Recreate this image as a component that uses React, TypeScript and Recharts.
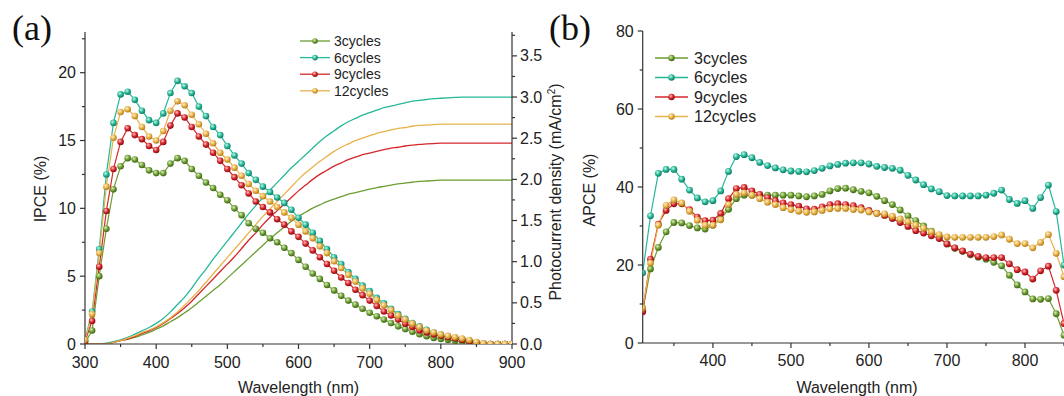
import React from 'react';
import { LineChart, Line, XAxis, YAxis } from 'recharts';

const FONT = '"Liberation Sans", Arial, sans-serif';
const AXIS = '#333';
const TEXT = '#222';

// panel (a): IPCE + integrated photocurrent
const wavelengthA = [
  300, 310, 320, 330, 340, 350, 360, 370, 380, 390, 400, 410, 420, 430, 440, 450, 460, 470, 480, 490,
  500, 510, 520, 530, 540, 550, 560, 570, 580, 590, 600, 610, 620, 630, 640, 650, 660, 670, 680, 690,
  700, 710, 720, 730, 740, 750, 760, 770, 780, 790, 800, 810, 820, 830, 840, 850, 860, 870, 880, 890, 900,
];

const ipce3 = [
  0.1, 1.0, 5.0, 8.5, 11.4, 13.1, 13.7, 13.6, 13.2, 12.8, 12.6, 12.6, 13.3, 13.7, 13.5, 12.9, 12.4, 11.9, 11.5, 11.0,
  10.6, 10.0, 9.5, 8.9, 8.5, 8.2, 7.8, 7.5, 7.1, 6.7, 6.2, 5.7, 5.2, 4.8, 4.35, 3.95, 3.55, 3.2, 2.9, 2.6,
  2.3, 2.05, 1.8, 1.55, 1.3, 1.1, 0.9, 0.72, 0.58, 0.45, 0.37, 0.3, 0.22, 0.17, 0.12, 0.05, 0, 0, 0, 0, 0,
];
const ipce6 = [
  0.3, 2.4, 7.0, 12.5, 16.3, 18.4, 18.6, 18.0, 17.2, 16.5, 16.3, 17.0, 18.5, 19.4, 19.0, 18.5, 17.5, 16.8, 16.0, 15.4,
  14.6, 13.9, 13.3, 12.6, 12.1, 11.6, 11.2, 10.8, 10.4, 9.9, 9.3, 8.8, 8.2, 7.6, 7.0, 6.4, 5.9, 5.3, 4.8, 4.3,
  3.9, 3.4, 3.0, 2.6, 2.2, 1.85, 1.55, 1.3, 1.05, 0.85, 0.7, 0.55, 0.45, 0.35, 0.25, 0.1, 0.03, 0, 0, 0, 0,
];
const ipce9 = [
  0.2, 1.7, 5.7, 9.8, 12.9, 14.9, 15.9, 15.4, 15.1, 14.6, 14.3, 14.9, 16.1, 17.0, 16.7, 16.0, 15.3, 14.7, 14.1, 13.5,
  12.9, 12.3, 11.7, 11.1, 10.5, 10.1, 9.7, 9.2, 8.8, 8.3, 7.9, 7.4, 6.9, 6.4, 5.9, 5.4, 4.9, 4.5, 4.0, 3.6,
  3.2, 2.8, 2.4, 2.1, 1.8, 1.5, 1.25, 1.0, 0.85, 0.7, 0.6, 0.5, 0.4, 0.3, 0.2, 0.1, 0.02, 0, 0, 0, 0,
];
const ipce12 = [
  0.3, 2.2, 6.7, 11.6, 15.2, 17.1, 17.3, 16.8, 16.0, 15.3, 15.0, 15.7, 17.2, 17.9, 17.6, 16.9, 16.2, 15.5, 14.8, 14.1,
  13.6, 13.0, 12.4, 11.8, 11.3, 10.9, 10.5, 10.1, 9.7, 9.3, 8.8, 8.3, 7.8, 7.2, 6.7, 6.1, 5.6, 5.1, 4.6, 4.1,
  3.7, 3.25, 2.85, 2.5, 2.1, 1.8, 1.5, 1.25, 1.0, 0.85, 0.7, 0.6, 0.5, 0.4, 0.3, 0.15, 0.05, 0, 0, 0, 0,
];

const jsc3 = [
  0, 0, 0, 0, 0.02, 0.04, 0.06, 0.08, 0.11, 0.14, 0.18, 0.22, 0.27, 0.32, 0.38, 0.44, 0.51, 0.58, 0.65, 0.72,
  0.8, 0.88, 0.96, 1.04, 1.12, 1.2, 1.28, 1.35, 1.42, 1.49, 1.55, 1.6, 1.65, 1.69, 1.73, 1.76, 1.79, 1.82, 1.84, 1.86,
  1.88, 1.9, 1.915, 1.93, 1.945, 1.955, 1.965, 1.975, 1.98, 1.985, 1.99, 1.99, 1.99, 1.99, 1.99, 1.99, 1.99, 1.99, 1.99, 1.99, 1.99,
];
const jsc6 = [
  0, 0, 0, 0.01, 0.03, 0.05, 0.08, 0.12, 0.16, 0.2, 0.25, 0.31, 0.39, 0.48, 0.57, 0.68, 0.8, 0.91, 1.03, 1.14,
  1.25, 1.36, 1.47, 1.58, 1.68, 1.78, 1.87, 1.96, 2.05, 2.14, 2.22, 2.3, 2.38, 2.46, 2.53, 2.59, 2.65, 2.7, 2.74, 2.78,
  2.81, 2.84, 2.87, 2.89, 2.91, 2.93, 2.95, 2.96, 2.97, 2.98, 2.985, 2.99, 2.995, 3.0, 3.0, 3.0, 3.0, 3.0, 3.0, 3.0, 3.0,
];
const jsc9 = [
  0, 0, 0, 0, 0.02, 0.04, 0.06, 0.09, 0.13, 0.16, 0.2, 0.25, 0.31, 0.37, 0.44, 0.52, 0.61, 0.7, 0.79, 0.88,
  0.97, 1.06, 1.16, 1.26, 1.35, 1.45, 1.54, 1.62, 1.7, 1.78, 1.86, 1.93, 2.0, 2.06, 2.11, 2.16, 2.2, 2.24, 2.27, 2.3,
  2.32, 2.34, 2.36, 2.38, 2.39, 2.405, 2.415, 2.425, 2.43, 2.435, 2.44, 2.44, 2.44, 2.44, 2.44, 2.44, 2.44, 2.44, 2.44, 2.44, 2.44,
];
const jsc12 = [
  0, 0, 0, 0, 0.02, 0.04, 0.07, 0.1, 0.14, 0.17, 0.21, 0.26, 0.32, 0.39, 0.47, 0.56, 0.65, 0.75, 0.85, 0.95,
  1.05, 1.15, 1.25, 1.35, 1.45, 1.55, 1.64, 1.73, 1.82, 1.91, 2.0, 2.08, 2.15, 2.22, 2.28, 2.34, 2.39, 2.43, 2.47, 2.5,
  2.53, 2.56, 2.58, 2.6, 2.62, 2.63, 2.645, 2.655, 2.66, 2.665, 2.67, 2.67, 2.67, 2.67, 2.67, 2.67, 2.67, 2.67, 2.67, 2.67, 2.67,
];

// panel (b): APCE
const wavelengthB = [
  310, 320, 330, 340, 350, 360, 370, 380, 390, 400, 410, 420, 430, 440, 450, 460, 470, 480, 490, 500,
  510, 520, 530, 540, 550, 560, 570, 580, 590, 600, 610, 620, 630, 640, 650, 660, 670, 680, 690, 700,
  710, 720, 730, 740, 750, 760, 770, 780, 790, 800, 810, 820, 830, 840, 850,
];
const apce3 = [
  8.3, 19.0, 24.5, 28.5, 30.9, 30.8, 30.1, 29.5, 29.2, 30.2, 31.8, 34.3, 37.0, 37.9, 37.9, 37.9, 37.9, 37.9, 37.9, 37.9,
  37.7, 37.5, 37.7, 38.1, 39.0, 39.6, 39.7, 39.3, 38.9, 38.5, 37.6, 36.5, 35.5, 34.1, 32.6, 31.4, 30.0, 28.7, 27.1, 25.4,
  24.3, 23.5, 22.6, 22.0, 21.5, 20.7, 19.8, 17.4, 14.9, 13.1, 11.3, 11.2, 11.4, 7.5, 2.0,
];
const apce6 = [
  18.0, 32.6, 43.5, 44.5, 44.5, 42.0, 39.2, 37.2, 36.2, 36.5, 39.0, 44.0, 47.8, 48.3, 47.5, 46.3, 45.5, 44.9, 44.4, 44.1,
  44.0, 43.9, 44.2, 44.8, 45.4, 45.8, 46.1, 46.2, 46.2, 45.9, 45.3, 45.0, 44.8, 44.3, 43.0, 41.8, 40.6, 39.5, 38.8, 37.8,
  37.7, 37.7, 37.7, 37.7, 37.9, 38.4, 39.2, 36.8, 35.8, 36.5, 34.5, 37.3, 40.5, 33.7, 20.0,
];
const apce9 = [
  8.0, 21.5, 30.5, 34.0, 35.7, 35.7, 34.2, 32.3, 31.4, 31.5, 33.2, 37.0, 39.6, 39.9, 39.0, 38.1, 37.3, 36.5, 35.9, 35.5,
  35.1, 34.4, 34.3, 34.9, 35.5, 35.7, 35.5, 35.2, 34.7, 34.0, 33.3, 32.7, 31.9, 30.9, 29.9, 28.8, 28.2, 27.5, 26.8, 25.4,
  24.4, 23.6, 22.8, 22.2, 21.9, 21.9, 21.9, 20.3, 18.8, 18.2, 16.4, 18.5, 19.7, 13.5, 5.0,
];
const apce12 = [
  9.0, 20.5, 30.2, 35.3, 36.7, 35.9, 33.8, 31.5, 30.2, 30.2, 31.6, 35.5, 38.1, 38.5, 37.9, 37.0, 36.1, 35.5, 34.7, 34.2,
  33.8, 33.5, 33.6, 34.0, 34.4, 34.5, 34.5, 34.2, 34.1, 33.6, 33.2, 33.1, 32.5, 31.8, 31.1, 30.2, 29.4, 28.5, 27.8, 27.2,
  27.1, 27.1, 27.1, 27.1, 27.1, 27.3, 27.7, 26.6, 25.5, 25.5, 24.4, 25.8, 27.8, 23.0, 17.0,
];

const xTicksA = [300, 350, 400, 450, 500, 550, 600, 650, 700, 750, 800, 850, 900];
const ipceTicks = [0, 2.5, 5, 7.5, 10, 12.5, 15, 17.5, 20, 22.5];
const jscTicks = [0, 0.25, 0.5, 0.75, 1, 1.25, 1.5, 1.75, 2, 2.25, 2.5, 2.75, 3, 3.25, 3.5, 3.75];
const xTicksB = [350, 400, 450, 500, 550, 600, 650, 700, 750, 800, 850];
const apceTicks = [0, 10, 20, 30, 40, 50, 60, 70, 80];

const SERIES = [
  { name: '3cycles', i: 'i3', j: 'j3', a: 'a3', color: '#6c9d32', grad: 'ballGreen', light: '#dcefbf', dark: '#3f6614' },
  { name: '6cycles', i: 'i6', j: 'j6', a: 'a6', color: '#25b898', grad: 'ballTeal', light: '#c8f4e8', dark: '#0f7a62' },
  { name: '9cycles', i: 'i9', j: 'j9', a: 'a9', color: '#d5262b', grad: 'ballRed', light: '#ffc4c0', dark: '#8c0d10' },
  { name: '12cycles', i: 'i12', j: 'j12', a: 'a12', color: '#e8b24a', grad: 'ballOrange', light: '#fff0c8', dark: '#b07a16' },
];

const dataA = wavelengthA.map((wl, k) => ({
  wl,
  i3: ipce3[k], i6: ipce6[k], i9: ipce9[k], i12: ipce12[k],
  j3: jsc3[k], j6: jsc6[k], j9: jsc9[k], j12: jsc12[k],
}));

const dataB = wavelengthB.map((wl, k) => ({
  wl, a3: apce3[k], a6: apce6[k], a9: apce9[k], a12: apce12[k],
}));

type Side = 'left' | 'right' | 'bottom' | 'top';

// axis ticks drawn by hand so that minor ticks are shorter and unlabeled
const makeTick = (side: Side, majorStep: number, fmt: ((v: number) => string) | null, labelGap = 24) =>
  function Tick(props: any) {
    const { x, y, payload } = props;
    const v = Number(payload?.value);
    const q = v / majorStep;
    const major = Math.abs(q - Math.round(q)) < 1e-6;
    const len = major ? 5 : 3;
    let x1 = x, x2 = x, y1 = y, y2 = y, tx = x, ty = y;
    let anchor: 'start' | 'middle' | 'end' = 'middle';
    if (side === 'left') { x1 = x - len; tx = x - 9; ty = y + 5.5; anchor = 'end'; }
    if (side === 'right') { x2 = x + len; tx = x + 8; ty = y + 5.5; anchor = 'start'; }
    if (side === 'bottom') { y2 = y + len; ty = y + labelGap; }
    if (side === 'top') { y1 = y - len; }
    return (
      <g>
        <line x1={x1} y1={y1} x2={x2} y2={y2} stroke={AXIS} strokeWidth={1.2} />
        {major && fmt && (
          <text x={tx} y={ty} textAnchor={anchor} fontSize={16} fontFamily={FONT} fill={TEXT}>
            {fmt(v)}
          </text>
        )}
      </g>
    );
  };

const axisLine = { stroke: AXIS, strokeWidth: 1.2 };
const int = (v: number) => String(v);
const one = (v: number) => v.toFixed(1);

function Legend({ left, top, gap, fontSize, lineLen, r, textGap }: any) {
  return (
    <g>
      {SERIES.map((s, k) => {
        const cy = top + k * gap;
        return (
          <g key={s.name}>
            <line x1={left} x2={left + lineLen} y1={cy} y2={cy} stroke={s.color} strokeWidth={1.3} />
            <circle cx={left + lineLen / 2} cy={cy} r={r} fill={`url(#${s.grad})`} />
            <text x={left + lineLen + textGap} y={cy + fontSize * 0.36} fontSize={fontSize} fontFamily={FONT} fill={TEXT}>
              {s.name}
            </text>
          </g>
        );
      })}
    </g>
  );
}

export default function App() {
  return (
    <div style={{ position: 'absolute', left: 0, top: 0, width: 1064, height: 396, overflow: 'hidden', background: '#fff' }}>
      <div style={{ position: 'absolute', left: 0, top: 0 }}>
        <LineChart width={600} height={396} data={dataA} margin={{ top: 32, right: 38, bottom: 22, left: 40 }}>
          <XAxis dataKey="wl" type="number" domain={[300, 900]} ticks={xTicksA} interval={0} height={30}
            tickSize={0} tickMargin={0} tick={makeTick('bottom', 100, int, 24)} axisLine={axisLine} allowDataOverflow />
          <XAxis xAxisId="top" dataKey="wl" orientation="top" type="number" domain={[300, 900]} height={0}
            tick={false} tickLine={false} axisLine={axisLine} />
          <YAxis yAxisId="ipce" type="number" domain={[0, 23]} ticks={ipceTicks} interval={0} width={45}
            tickSize={0} tickMargin={0} tick={makeTick('left', 5, int)} axisLine={axisLine} allowDataOverflow />
          <YAxis yAxisId="jsc" orientation="right" type="number" domain={[0, 3.79]} ticks={jscTicks} interval={0} width={50}
            tickSize={0} tickMargin={0} tick={makeTick('right', 0.5, one)} axisLine={axisLine} allowDataOverflow />
          {SERIES.map((s) => (
            <Line key={s.j} yAxisId="jsc" dataKey={s.j} type="monotone" stroke={s.color} strokeWidth={1.3}
              dot={false} activeDot={false} isAnimationActive={false} />
          ))}
          {SERIES.map((s) => (
            <Line key={s.i} yAxisId="ipce" dataKey={s.i} type="linear" stroke={s.color} strokeWidth={1.2}
              dot={{ r: 3.3, fill: `url(#${s.grad})`, stroke: 'none', strokeWidth: 0 }} activeDot={false} isAnimationActive={false} />
          ))}
        </LineChart>
      </div>

      <div style={{ position: 'absolute', left: 600, top: 0 }}>
        <LineChart width={480} height={396} data={dataB} margin={{ top: 31, right: 16, bottom: 23, left: 2.7 }}>
          <XAxis dataKey="wl" type="number" domain={[310, 850]} ticks={xTicksB} interval={0} height={30}
            tickSize={0} tickMargin={0} tick={makeTick('bottom', 100, int, 23)} axisLine={axisLine} allowDataOverflow />
          <XAxis xAxisId="top" dataKey="wl" orientation="top" type="number" domain={[310, 850]} ticks={xTicksB} interval={0}
            height={0} tickSize={0} tickMargin={0} tick={makeTick('top', 100, null)} axisLine={axisLine} />
          <YAxis type="number" domain={[0, 80]} ticks={apceTicks} interval={0} width={40}
            tickSize={0} tickMargin={0} tick={makeTick('left', 20, int)} axisLine={axisLine} />
          {SERIES.map((s) => (
            <Line key={s.a} dataKey={s.a} type="linear" stroke={s.color} strokeWidth={1.2}
              dot={{ r: 3.4, fill: `url(#${s.grad})`, stroke: 'none', strokeWidth: 0 }} activeDot={false} isAnimationActive={false} />
          ))}
        </LineChart>
      </div>

      <svg width={1064} height={396} style={{ position: 'absolute', left: 0, top: 0, pointerEvents: 'none' }}>
        <defs>
          {SERIES.map((s) => (
            <radialGradient key={s.grad} id={s.grad} cx="38%" cy="35%" r="65%">
              <stop offset="0%" stopColor={s.light} />
              <stop offset="55%" stopColor={s.color} />
              <stop offset="100%" stopColor={s.dark} />
            </radialGradient>
          ))}
        </defs>
        <text x={12} y={40} fontSize={36} fontFamily='"Liberation Serif", "Times New Roman", serif' fill="#111">(a)</text>
        <text x={549} y={40} fontSize={36} fontFamily='"Liberation Serif", "Times New Roman", serif' fill="#111">(b)</text>

        <text transform="translate(46 189) rotate(-90)" textAnchor="middle" fontSize={16} fontFamily={FONT} fill={TEXT}>IPCE (%)</text>
        <text transform="translate(561 192) rotate(-90)" textAnchor="middle" fontSize={16} fontFamily={FONT} fill={TEXT}>
          <tspan>Photocurrent density (mA/cm</tspan>
          <tspan dy={-6} fontSize={10}>2</tspan>
          <tspan dy={6}>)</tspan>
        </text>
        <text transform="translate(595 190) rotate(-90)" textAnchor="middle" fontSize={16} fontFamily={FONT} fill={TEXT}>APCE (%)</text>
        <text x={298.5} y={393} textAnchor="middle" fontSize={16} fontFamily={FONT} fill={TEXT}>Wavelength (nm)</text>
        <text x={857} y={393} textAnchor="middle" fontSize={16} fontFamily={FONT} fill={TEXT}>Wavelength (nm)</text>

        <Legend left={300} top={41} gap={16.6} fontSize={14} lineLen={30} r={2.8} textGap={4} />
        <Legend left={655} top={58} gap={19.5} fontSize={16} lineLen={33} r={3.2} textGap={6} />
      </svg>
    </div>
  );
}
